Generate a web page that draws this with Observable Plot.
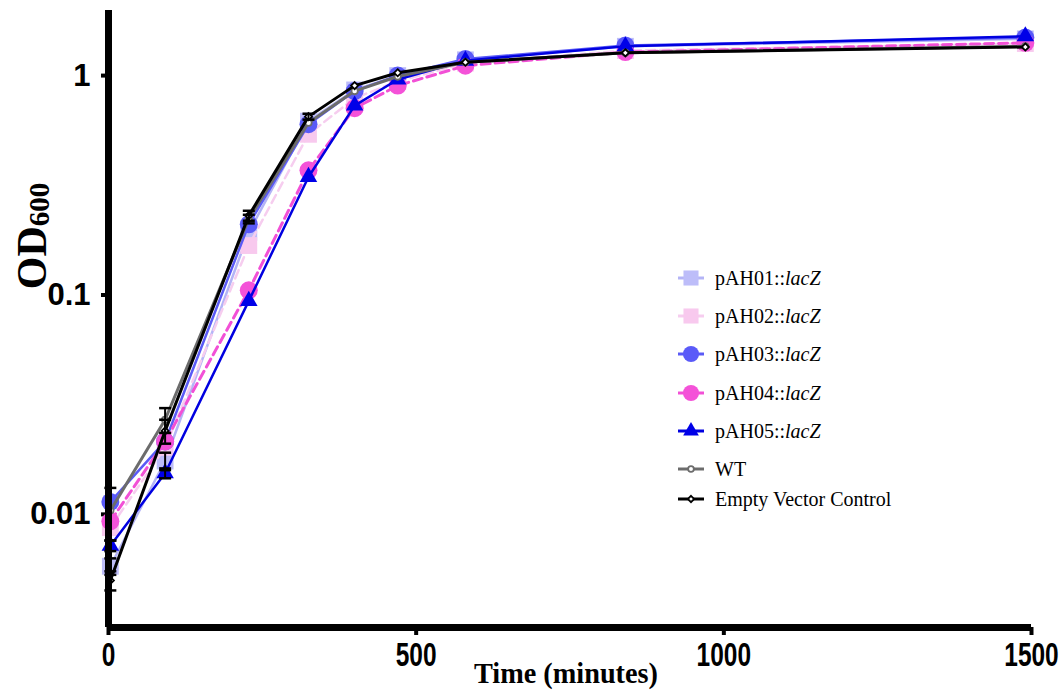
<!DOCTYPE html>
<html><head><meta charset="utf-8">
<script src="https://cdn.jsdelivr.net/npm/d3@7"></script>
<script src="https://cdn.jsdelivr.net/npm/@observablehq/plot@0.6"></script>
<style>
body{margin:0;background:#fff;}
#chart{position:relative;width:1062px;height:698px;}
</style>
</head><body><div id="chart"></div>
<script>
// ---- data ----
const times = [3, 92, 228, 325, 400, 470, 580, 840, 1490];
const pAH01 = [0.0058, 0.0175, 0.193, 0.62, 0.86, 1.00, 1.18, 1.36, 1.47];
const pAH02 = [0.0087, 0.0202, 0.168, 0.54, 0.79, 0.94, 1.14, 1.30, 1.40];
const pAH03 = [0.0114, 0.0215, 0.21, 0.60, 0.85, 1.00, 1.19, 1.37, 1.49];
const pAH04 = [0.0093, 0.0215, 0.105, 0.37, 0.71, 0.90, 1.11, 1.28, 1.41];
const pAH05 = [0.0072, 0.0154, 0.094, 0.345, 0.73, 0.96, 1.17, 1.36, 1.51];
const WT    = [0.0104, 0.027, 0.222, 0.61, 0.85, 0.99, 1.15, 1.27, 1.36];
const EVC   = [0.0050, 0.024, 0.230, 0.65, 0.90, 1.03, 1.15, 1.27, 1.35];
const errPAH01 = [0.0005, 0.0016, 0, 0, 0, 0, 0, 0, 0];
const errPAH05 = [0.0004, 0.0008, 0, 0, 0, 0, 0, 0, 0];
const errWT    = [0.0028, 0.0035, 0.010, 0, 0, 0, 0, 0, 0];
const errEVC   = [0.0005, 0.0030, 0.012, 0.02, 0, 0, 0, 0, 0];
const seriesKeys = ["pAH01", "pAH02", "pAH03", "pAH04", "pAH05", "WT", "EVC"];
const seriesPrefix = ["pAH01::", "pAH02::", "pAH03::", "pAH04::", "pAH05::", "WT", "Empty Vector Control"];
const seriesItalic = ["lacZ", "lacZ", "lacZ", "lacZ", "lacZ", "", ""];
const xTicks = [0, 500, 1000, 1500];
const xTickLabels = ["0", "500", "1000", "1500"];
const yTicks = [0.01, 0.1, 1];
const yTickLabels = ["0.01", "0.1", "1"];
const xLabel = "Time (minutes)";

const values = {pAH01, pAH02, pAH03, pAH04, pAH05, WT, EVC};
const errors = {pAH01: errPAH01, pAH05: errPAH05, WT: errWT, EVC: errEVC};

// ---- styles ----
const style = {
  pAH01: {line: "#b4b4f6", fill: "#bdbdf9", stroke: "none", symbol: "square", r: 9.5, dash: null, w: 2.5},
  pAH02: {line: "#f6cdef", fill: "#f8c9ee", stroke: "none", symbol: "square", r: 9.5, dash: "9,5", w: 2.5},
  pAH03: {line: "#5a5af6", fill: "#5a5af8", stroke: "none", symbol: "circle", r: 9, dash: null, w: 2.5},
  pAH04: {line: "#f250d6", fill: "#f452d8", stroke: "none", symbol: "circle", r: 9, dash: "9,5", w: 3},
  pAH05: {line: "#0000e0", fill: "#0000e8", stroke: "none", symbol: "triangle", r: 6.5, dash: null, w: 2.5},
  WT:    {line: "#6c6c6c", fill: "white", stroke: "#6c6c6c", symbol: "circle", r: 3.2, dash: null, w: 3},
  EVC:   {line: "#000000", fill: "white", stroke: "#000000", symbol: "diamond2", r: 3.2, dash: null, w: 3}
};

const rows = {};
seriesKeys.forEach(k => {
  rows[k] = times.map((t, i) => ({series: k, t, v: values[k][i], e: errors[k] ? errors[k][i] : 0}));
});
const errRows = seriesKeys.flatMap(k => rows[k].filter(d => d.e > 0));

const capSymbol = {draw(ctx) { ctx.moveTo(-6, 0); ctx.lineTo(6, 0); }};

const marks = [];
seriesKeys.forEach(k => {
  const s = style[k];
  marks.push(Plot.line(rows[k], {x: "t", y: "v", stroke: s.line, strokeWidth: s.w, strokeDasharray: s.dash, curve: "linear"}));
  marks.push(Plot.dot(rows[k], {x: "t", y: "v", symbol: s.symbol, r: s.r, fill: s.fill, stroke: s.stroke, strokeWidth: 1.8}));
});
marks.push(Plot.ruleX(errRows, {x: "t", y1: d => d.v - d.e, y2: d => d.v + d.e, stroke: "black", strokeWidth: 2}));
marks.push(Plot.dot(errRows, {x: "t", y: d => d.v + d.e, symbol: capSymbol, stroke: "black", strokeWidth: 2.5, fill: "none"}));
marks.push(Plot.dot(errRows, {x: "t", y: d => d.v - d.e, symbol: capSymbol, stroke: "black", strokeWidth: 2.5, fill: "none"}));

const yMin = 0.00305, yMax = 1.98;

const chart = Plot.plot({
  width: 1062, height: 698,
  marginLeft: 108, marginRight: 31, marginTop: 10, marginBottom: 71,
  style: {background: "white", color: "black"},
  x: {domain: [0, 1500]},
  y: {type: "log", domain: [yMin, yMax]},
  marks: [
    Plot.axisX(xTicks, {tickSize: 8, strokeWidth: 4, tickPadding: 6, fontSize: 34, fontWeight: "bold",
      fontFamily: "'Liberation Sans', Arial, sans-serif", label: null, fill: "black",
      tickFormat: d => xTickLabels[xTicks.indexOf(d)]}),
    Plot.axisY(yTicks, {tickSize: 7, strokeWidth: 4, tickPadding: 11, fontSize: 31, fontWeight: "bold",
      fontFamily: "'Liberation Sans', Arial, sans-serif", label: null, fill: "black",
      tickFormat: d => yTickLabels[yTicks.indexOf(d)]}),
    ...marks,
    Plot.ruleX([0], {stroke: "black", strokeWidth: 7}),
    Plot.ruleY([yMin], {stroke: "black", strokeWidth: 7}),
    Plot.text([xLabel], {frameAnchor: "bottom", dx: -4, dy: 55, fontSize: 30, fontWeight: "bold",
      fontFamily: "'Liberation Serif', 'Times New Roman', serif", fill: "black", className: "xtitle"})
  ]
});

document.getElementById("chart").appendChild(chart);
const svg = d3.select(chart);

// condense x tick labels horizontally (scale about each label's own anchor)
svg.selectAll('g[aria-label="x-axis tick label"] text').each(function() {
  const tr = this.getAttribute("transform") || "";
  const x = +(this.getAttribute("x") || 0);
  this.setAttribute("transform", `${tr} translate(${x} 0) scale(0.72 1) translate(${-x} 0)`);
});
svg.selectAll('.xtitle text').each(function() {
  this.setAttribute("textLength", 184);
  this.setAttribute("lengthAdjust", "spacingAndGlyphs");
});

// y title with subscript
const yt = svg.append("text")
  .attr("transform", "translate(46,236) rotate(-90)")
  .attr("text-anchor", "middle")
  .attr("font-family", "'Liberation Serif', 'Times New Roman', serif")
  .attr("font-weight", "bold")
  .attr("font-size", 42)
  .attr("fill", "black");
yt.append("tspan").text("OD");
yt.append("tspan").attr("font-size", 29).attr("dy", 3).text("600");

// legend
const legendY = [278, 316, 354, 393, 431, 469, 499];
const lg = svg.append("g").attr("text-anchor", "start");
const symMap = {square: d3.symbolSquare, circle: d3.symbolCircle, triangle: d3.symbolTriangle, diamond2: d3.symbolDiamond2};
seriesKeys.forEach((k, i) => {
  const s = style[k];
  const y = legendY[i];
  lg.append("line").attr("x1", 678).attr("x2", 704).attr("y1", y).attr("y2", y)
    .attr("stroke", s.line).attr("stroke-width", 3);
  lg.append("path").attr("transform", `translate(691,${y})`)
    .attr("d", d3.symbol(symMap[s.symbol], Math.PI * s.r * s.r * 0.8)())
    .attr("fill", s.fill).attr("stroke", s.stroke).attr("stroke-width", 1.8);
  const t = lg.append("text").attr("x", 715).attr("y", y + 7)
    .attr("text-anchor", "start")
    .attr("font-family", "'Liberation Serif', 'Times New Roman', serif")
    .attr("font-size", 20).attr("fill", "black");
  t.append("tspan").text(seriesPrefix[i]);
  if (seriesItalic[i]) t.append("tspan").attr("font-style", "italic").text(seriesItalic[i]);
});
</script>
</body></html>
